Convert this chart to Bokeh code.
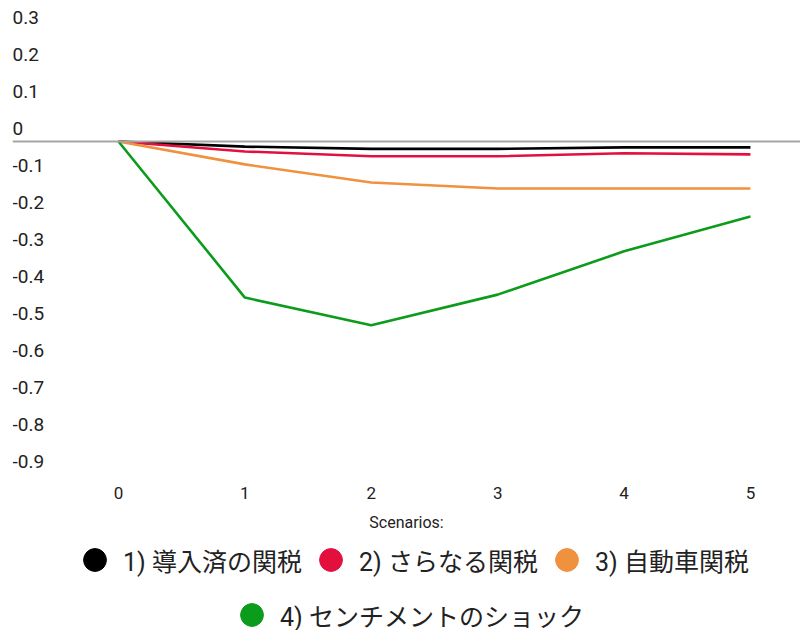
import math
from bokeh.plotting import figure
from bokeh.layouts import column
from bokeh.models import (Range1d, Span, LabelSet, ColumnDataSource, Legend,
                          LegendItem, FixedTicker)
from bokeh.core.properties import value
from bokeh.embed import file_html
from bokeh.resources import INLINE

# ---- data ----
scenarios = [0, 1, 2, 3, 4, 5]
series_names = ["1) 導入済の関税", "2) さらなる関税", "3) 自動車関税", "4) センチメントのショック"]
s1 = [0, -0.014, -0.020, -0.020, -0.016, -0.016]
s2 = [0, -0.027, -0.040, -0.040, -0.032, -0.035]
s3 = [0, -0.062, -0.111, -0.127, -0.127, -0.127]
s4 = [0, -0.422, -0.497, -0.414, -0.297, -0.203]
series_colors = ["#000000", "#e3103e", "#f0913e", "#0c9c1c"]
y_tick_values = [0.3, 0.2, 0.1, 0, -0.1, -0.2, -0.3, -0.4, -0.5, -0.6, -0.7, -0.8, -0.9]
y_tick_labels = ["0.3", "0.2", "0.1", "0", "-0.1", "-0.2", "-0.3", "-0.4", "-0.5",
                 "-0.6", "-0.7", "-0.8", "-0.9"]
x_axis_title = "Scenarios:"

FONT = "Roboto, Noto Sans CJK JP"
TXT = "#222222"

p = figure(frame_width=788, frame_height=478, output_backend="svg",
           toolbar_location=None,
           x_range=Range1d(-0.8386, 5.396), y_range=Range1d(-0.911, 0.381),
           min_border_left=12, min_border_right=0, min_border_top=0,
           min_border_bottom=58)
p.outline_line_color = None
p.xgrid.visible = False
p.ygrid.visible = False
p.yaxis.visible = False
p.background_fill_color = "white"
p.border_fill_color = "white"

# x axis
xa = p.xaxis[0]
xa.ticker = FixedTicker(ticks=scenarios)
xa.axis_line_color = None
xa.major_tick_line_color = None
xa.minor_tick_line_color = None
xa.major_tick_out = 0
xa.major_tick_in = 0
xa.major_label_standoff = 8
xa.major_label_text_font = FONT
xa.major_label_text_font_size = "17px"
xa.major_label_text_color = TXT
xa.axis_label = x_axis_title
xa.axis_label_standoff = 11
xa.axis_label_text_font = FONT
xa.axis_label_text_font_size = "16px"
xa.axis_label_text_font_style = "normal"
xa.axis_label_text_color = TXT

# zero line
p.add_layout(Span(location=0, dimension="width", line_color="#a6a6a6", line_width=2))

# y tick labels drawn above their positions
ysrc = ColumnDataSource(dict(x=[0] * len(y_tick_values), y=y_tick_values, t=y_tick_labels))
p.add_layout(LabelSet(x="x", y="y", text="t", source=ysrc, x_units="screen",
                      y_units="data", text_baseline="alphabetic", text_align="left",
                      y_offset=6, text_font=value(FONT), text_font_size=value("19px"),
                      text_color=TXT))

# lines
all_series = [s1, s2, s3, s4]
for vals, col in zip(all_series, series_colors):
    p.line(scenarios, vals, line_color=col, line_width=2.6)

# ---- legend strip ----
q = figure(width=800, height=94, output_backend="svg", toolbar_location=None,
           x_axis_location=None, y_axis_location=None,
           x_range=Range1d(0, 1), y_range=Range1d(0, 1),
           min_border_left=0, min_border_right=0, min_border_top=0,
           min_border_bottom=0)
q.outline_line_color = None
q.xgrid.visible = False
q.ygrid.visible = False
q.background_fill_color = "white"
q.border_fill_color = "white"

markers = []
for col in series_colors:
    r = q.scatter([math.nan], [math.nan], marker="circle", fill_color=col,
                  line_color=col, size=20)
    markers.append(r)

def make_legend(idx, loc):
    return Legend(items=[LegendItem(label=series_names[i], renderers=[markers[i]]) for i in idx],
                  orientation="horizontal", location=loc,
                  glyph_width=57, glyph_height=57, label_standoff=0, spacing=0,
                  padding=0, margin=0, border_line_color=None,
                  background_fill_alpha=0, label_text_font=FONT,
                  label_text_font_size="25px", label_text_color=TXT)

q.add_layout(make_legend([0, 1, 2], (54, 42)))
q.add_layout(make_legend([3], (211, -13)))

layout = column(p, q, spacing=0)
open("out.html", "w").write(file_html(layout, INLINE))
